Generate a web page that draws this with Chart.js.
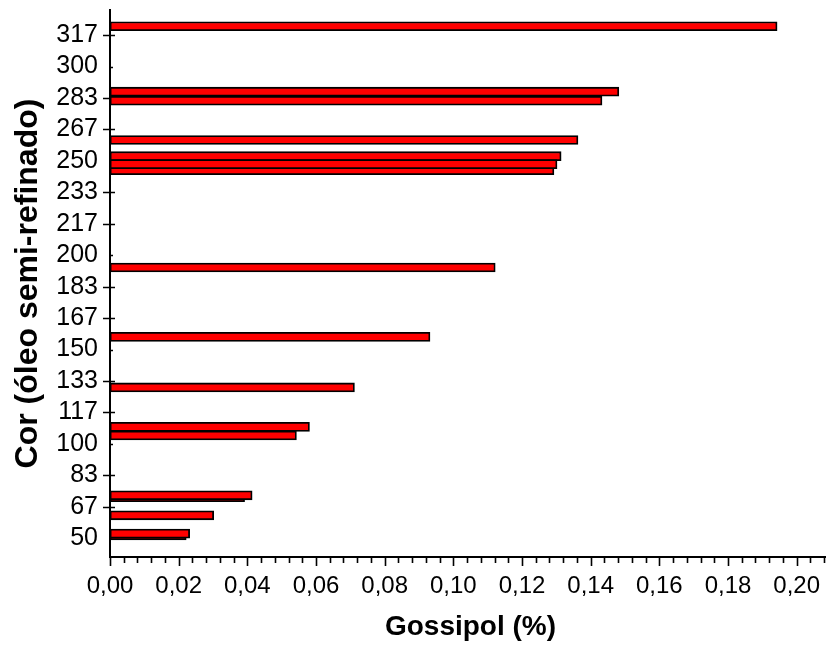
<!DOCTYPE html>
<html>
<head>
<meta charset="utf-8">
<title>Gossipol x Cor</title>
<script src="https://cdn.jsdelivr.net/npm/chart.js@4/dist/chart.umd.min.js"></script>
<style>
  html, body { margin: 0; padding: 0; background: #fff; overflow: hidden; }
  #wrap { width: 834px; height: 646px; }
</style>
</head>
<body>
<div id="wrap"><canvas id="grafico" width="834" height="646"></canvas></div>
<script>
// Cor do óleo semi-refinado (eixo vertical) e teor de gossipol (%)
// Ordem: barras parcialmente cobertas vêm antes das que ficam por cima
const cor      = [321.4, 286.7, 281.9, 261.1, 252.5, 245.1, 248.3, 193.5, 156.7, 129.9, 109.0, 104.4, 71.7, 72.7, 62.1, 51.5, 52.4];
const gossipol = [0.1943, 0.1482, 0.1433, 0.1363, 0.1314, 0.1293, 0.1302, 0.1122, 0.0932, 0.0712, 0.0581, 0.0543, 0.0392, 0.0414, 0.0302, 0.0222, 0.0232];

// eixos
const corMin = 40, corMax = 330, corPasso = 50 / 3;
const gosMin = 0, gosMax = 0.21, gosPasso = 0.02, gosMenor = 0.004;

const fonte = 'Liberation Sans, Arial, sans-serif';
const $ = (sel) => document.querySelector(sel);

// marcas dos eixos no estilo Origin (y: cruzadas; x: maiores e menores para fora)
const marcas = {
  id: 'marcas',
  beforeDatasetsDraw(chart) {
    const { ctx, chartArea: a, scales: { x, y } } = chart;
    ctx.save();
    ctx.strokeStyle = '#000';
    ctx.lineWidth = 1.6;
    ctx.beginPath();
    y.ticks.forEach(t => {
      const py = Math.round(y.getPixelForValue(t.value)) + 0.5;
      if (Math.round(t.value) % 50 === 0) {
        ctx.moveTo(a.left, py); ctx.lineTo(a.left + 3, py);
      } else {
        ctx.moveTo(a.left - 7, py); ctx.lineTo(a.left + 5, py);
      }
    });
    const n = Math.round((gosMax - gosMin) / gosMenor);
    for (let i = 0; i <= n; i++) {
      const px = Math.round(x.getPixelForValue(gosMin + i * gosMenor)) + 0.5;
      const len = i % 5 === 0 ? 9 : 6;
      ctx.moveTo(px, a.bottom); ctx.lineTo(px, a.bottom + len);
    }
    ctx.stroke();
    ctx.restore();
  }
};

new Chart($('#grafico').getContext('2d'), {
  type: 'bar',
  data: {
    datasets: [{
      data: cor.map((c, i) => ({ x: gossipol[i], y: c })),
      backgroundColor: '#ff0000',
      borderColor: '#000',
      borderWidth: 1.8,
      borderSkipped: false,
      barThickness: 9
    }]
  },
  options: {
    indexAxis: 'y',
    responsive: false,
    animation: false,
    layout: { padding: { top: 10, right: 3, left: 0, bottom: 0 } },
    plugins: { legend: { display: false }, tooltip: { enabled: false } },
    scales: {
      y: {
        type: 'linear',
        min: corMin, max: corMax,
        offset: false,
        grid: { display: false, drawTicks: false, offset: false },
        border: { display: true, color: '#000', width: 2 },
        ticks: {
          stepSize: corPasso,
          includeBounds: false,
          padding: 12,
          color: '#000',
          font: { family: fonte, size: 25 },
          callback: (v) => String(Math.round(v))
        },
        title: {
          display: true,
          text: 'Cor (óleo semi-refinado)',
          color: '#000',
          font: { family: fonte, size: 32, weight: 'bold' },
          padding: { top: 9, bottom: 0 }
        },
        afterFit: (s) => { s.width = 110; s.paddingTop = 0; s.paddingBottom = 0; }
      },
      x: {
        type: 'linear',
        min: gosMin, max: gosMax,
        grid: { display: false, drawTicks: false },
        border: { display: true, color: '#000', width: 2 },
        ticks: {
          stepSize: gosPasso,
          includeBounds: false,
          padding: 15,
          color: '#000',
          maxRotation: 0,
          autoSkip: false,
          font: { family: fonte, size: 24 },
          callback: (v) => v.toFixed(2).replace('.', ',')
        },
        title: {
          display: true,
          text: 'Gossipol (%)',
          color: '#000',
          font: { family: fonte, size: 28, weight: 'bold' },
          padding: { top: 0, bottom: 2 }
        },
        afterFit: (s) => { s.height = 89; s.paddingLeft = 0; s.paddingRight = 0; }
      }
    }
  },
  plugins: [marcas]
});
</script>
</body>
</html>
